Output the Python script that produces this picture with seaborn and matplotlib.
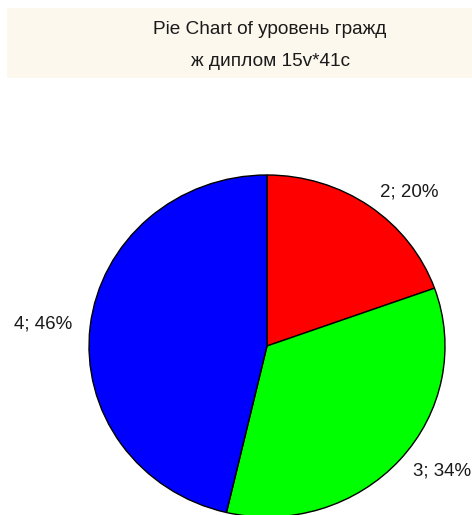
import matplotlib
matplotlib.use("Agg")
import matplotlib.pyplot as plt
import matplotlib.patches as mpatches
import seaborn as sns

# data (41 cases)
categories = ["2", "3", "4"]
counts = [8, 14, 19]
slice_colors = ["#ff0000", "#00ff00", "#0000ff"]
title_lines = ["Pie Chart of уровень гражд", "ж диплом 15v*41с"]

sns.set_theme(style="white")
plt.rcParams['font.family'] = ['Liberation Sans', 'DejaVu Sans']

W, H = 472, 515
fig = plt.figure(figsize=(W / 100, H / 100), dpi=100)
fig.patch.set_facecolor("white")

# title box
fig.patches.append(mpatches.Rectangle((7 / W, 1 - 78 / H), (W - 7) / W, 70 / H,
                                      transform=fig.transFigure, facecolor="#fcf8ee",
                                      edgecolor="none", zorder=0))
fig.text(270 / W, 1 - 29 / H, title_lines[0], ha="center", va="center",
         fontsize=13.7, color="#1a1a1a")
fig.text(271 / W, 1 - 61 / H, title_lines[1], ha="center", va="center",
         fontsize=13.7, color="#1a1a1a")

# pie
ax = fig.add_axes([89 / W, -2 / H, 356 / W, 342 / H])
total = sum(counts)
labels = [f"{c}; {round(100 * n / total)}%" for c, n in zip(categories, counts)]
wedges, texts = ax.pie(counts, labels=labels, colors=slice_colors, startangle=90,
                       counterclock=False, labeldistance=1.1,
                       wedgeprops=dict(edgecolor="black", linewidth=1),
                       textprops=dict(fontsize=13.5, color="#1a1a1a"))
ax.set_aspect("auto")
ax.set_xlim(-1, 1)
ax.set_ylim(-1, 1)
ax.axis("off")

fig.savefig("out.png", dpi=100)
